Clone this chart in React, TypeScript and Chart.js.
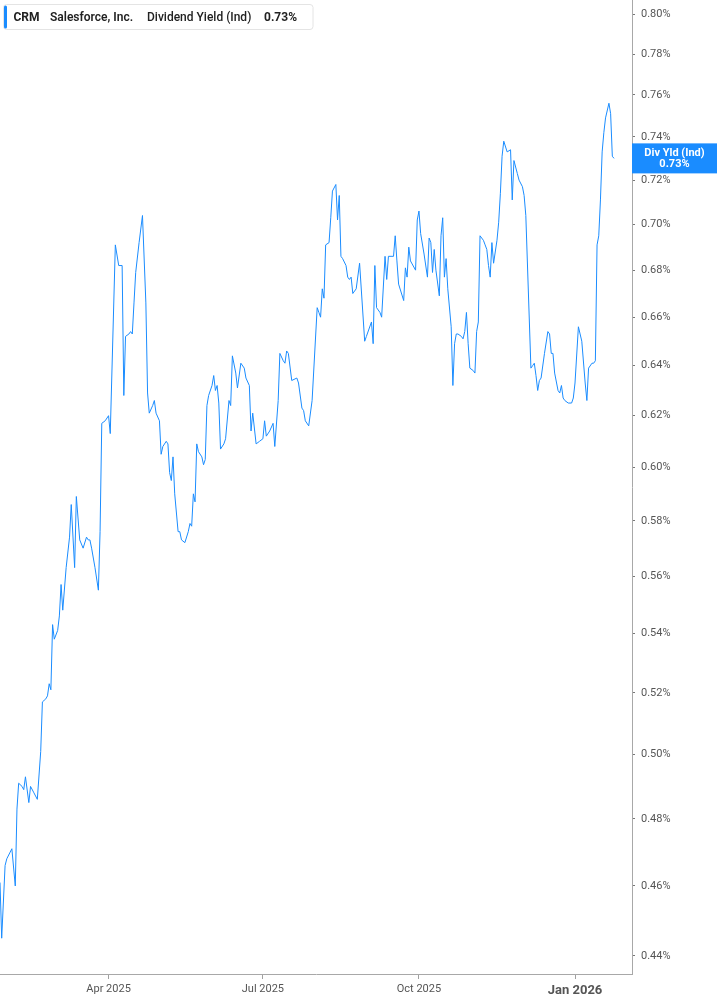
import { useEffect, useRef } from 'react';
import { Chart, registerables } from 'chart.js';

Chart.register(...registerables);

const ticker = 'CRM';
const company = 'Salesforce, Inc.';
const metric = 'Dividend Yield (Ind)';
const tagTitle = 'Div Yld (Ind)';

// one row per month
const dates = [
  '2025-01-27', '2025-01-28', '2025-01-30', '2025-01-31',
  '2025-02-02', '2025-02-03', '2025-02-05', '2025-02-06', '2025-02-07', '2025-02-09', '2025-02-10', '2025-02-11', '2025-02-13', '2025-02-14', '2025-02-16', '2025-02-18', '2025-02-20', '2025-02-21', '2025-02-23', '2025-02-24', '2025-02-25', '2025-02-26', '2025-02-27', '2025-02-28',
  '2025-03-02', '2025-03-03', '2025-03-04', '2025-03-05', '2025-03-07', '2025-03-09', '2025-03-10', '2025-03-12', '2025-03-13', '2025-03-15', '2025-03-17', '2025-03-19', '2025-03-20', '2025-03-21', '2025-03-22', '2025-03-24', '2025-03-26', '2025-03-27', '2025-03-28', '2025-03-30',
  '2025-04-01', '2025-04-02', '2025-04-05', '2025-04-07', '2025-04-09', '2025-04-10', '2025-04-11', '2025-04-13', '2025-04-14', '2025-04-15', '2025-04-16', '2025-04-17', '2025-04-19', '2025-04-21', '2025-04-23', '2025-04-24', '2025-04-25', '2025-04-27', '2025-04-28', '2025-04-29',
  '2025-05-01', '2025-05-02', '2025-05-03', '2025-05-05', '2025-05-06', '2025-05-07', '2025-05-08', '2025-05-09', '2025-05-10', '2025-05-12', '2025-05-13', '2025-05-14', '2025-05-16', '2025-05-18', '2025-05-19', '2025-05-20', '2025-05-21', '2025-05-22', '2025-05-23', '2025-05-24', '2025-05-26', '2025-05-27', '2025-05-28', '2025-05-29', '2025-05-30',
  '2025-06-01', '2025-06-02', '2025-06-03', '2025-06-04', '2025-06-05', '2025-06-06', '2025-06-08', '2025-06-09', '2025-06-11', '2025-06-12', '2025-06-13', '2025-06-15', '2025-06-16', '2025-06-18', '2025-06-20', '2025-06-21', '2025-06-23', '2025-06-24', '2025-06-25', '2025-06-27', '2025-06-29',
  '2025-07-01', '2025-07-02', '2025-07-03', '2025-07-05', '2025-07-07', '2025-07-08', '2025-07-10', '2025-07-11', '2025-07-13', '2025-07-14', '2025-07-15', '2025-07-16', '2025-07-18', '2025-07-21', '2025-07-22', '2025-07-24', '2025-07-25', '2025-07-26', '2025-07-28', '2025-07-30',
  '2025-08-02', '2025-08-03', '2025-08-04', '2025-08-05', '2025-08-06', '2025-08-07', '2025-08-09', '2025-08-10', '2025-08-11', '2025-08-13', '2025-08-14', '2025-08-15', '2025-08-16', '2025-08-17', '2025-08-19', '2025-08-20', '2025-08-21', '2025-08-22', '2025-08-23', '2025-08-25', '2025-08-27', '2025-08-30', '2025-08-31',
  '2025-09-03', '2025-09-04', '2025-09-05', '2025-09-06', '2025-09-08', '2025-09-09', '2025-09-11', '2025-09-12', '2025-09-13', '2025-09-16', '2025-09-17', '2025-09-18', '2025-09-19', '2025-09-22', '2025-09-23', '2025-09-24', '2025-09-25', '2025-09-26', '2025-09-29', '2025-09-30',
  '2025-10-01', '2025-10-02', '2025-10-04', '2025-10-06', '2025-10-07', '2025-10-08', '2025-10-09', '2025-10-10', '2025-10-11', '2025-10-13', '2025-10-14', '2025-10-15', '2025-10-16', '2025-10-17', '2025-10-18', '2025-10-20', '2025-10-21', '2025-10-22', '2025-10-23', '2025-10-24', '2025-10-26', '2025-10-27', '2025-10-28', '2025-10-29', '2025-10-30', '2025-10-31',
  '2025-11-02', '2025-11-03', '2025-11-04', '2025-11-05', '2025-11-06', '2025-11-08', '2025-11-09', '2025-11-10', '2025-11-11', '2025-11-12', '2025-11-13', '2025-11-14', '2025-11-16', '2025-11-17', '2025-11-18', '2025-11-19', '2025-11-20', '2025-11-22', '2025-11-24', '2025-11-25', '2025-11-26', '2025-11-28', '2025-11-29',
  '2025-12-01', '2025-12-02', '2025-12-03', '2025-12-06', '2025-12-07', '2025-12-08', '2025-12-09', '2025-12-10', '2025-12-11', '2025-12-12', '2025-12-14', '2025-12-16', '2025-12-17', '2025-12-18', '2025-12-19', '2025-12-20', '2025-12-22', '2025-12-23', '2025-12-24', '2025-12-25', '2025-12-26', '2025-12-28', '2025-12-30', '2025-12-31',
  '2026-01-01', '2026-01-03', '2026-01-04', '2026-01-05', '2026-01-07', '2026-01-08', '2026-01-09', '2026-01-11', '2026-01-12', '2026-01-13', '2026-01-14', '2026-01-15', '2026-01-16', '2026-01-17', '2026-01-18', '2026-01-19', '2026-01-21', '2026-01-22', '2026-01-23', '2026-01-24',
];

// dividend yield in %, same rows as dates
const divYield = [
  0.461, 0.445, 0.466, 0.468,
  0.470, 0.471, 0.460, 0.483, 0.491, 0.490, 0.489, 0.493, 0.485, 0.490, 0.488, 0.486, 0.501, 0.517, 0.518, 0.519, 0.523, 0.521, 0.543, 0.538,
  0.541, 0.546, 0.557, 0.548, 0.563, 0.574, 0.586, 0.563, 0.589, 0.573, 0.570, 0.574, 0.573, 0.573, 0.570, 0.563, 0.555, 0.576, 0.617, 0.618,
  0.620, 0.613, 0.691, 0.682, 0.682, 0.628, 0.652, 0.653, 0.654, 0.653, 0.666, 0.679, 0.692, 0.704, 0.666, 0.629, 0.621, 0.624, 0.626, 0.621,
  0.618, 0.605, 0.608, 0.610, 0.609, 0.598, 0.595, 0.604, 0.590, 0.576, 0.576, 0.573, 0.572, 0.576, 0.579, 0.578, 0.590, 0.587, 0.609, 0.606, 0.604, 0.601, 0.603, 0.624, 0.628,
  0.632, 0.636, 0.630, 0.632, 0.625, 0.607, 0.609, 0.611, 0.626, 0.624, 0.644, 0.637, 0.631, 0.641, 0.639, 0.635, 0.632, 0.614, 0.621, 0.609, 0.610,
  0.611, 0.618, 0.612, 0.614, 0.617, 0.608, 0.626, 0.645, 0.642, 0.641, 0.646, 0.645, 0.634, 0.635, 0.633, 0.623, 0.622, 0.618, 0.616, 0.626,
  0.664, 0.662, 0.660, 0.672, 0.668, 0.691, 0.692, 0.703, 0.715, 0.718, 0.702, 0.713, 0.686, 0.685, 0.682, 0.677, 0.676, 0.677, 0.670, 0.672, 0.683, 0.650, 0.652,
  0.658, 0.649, 0.682, 0.664, 0.662, 0.660, 0.686, 0.676, 0.686, 0.686, 0.695, 0.684, 0.674, 0.667, 0.681, 0.677, 0.690, 0.684, 0.680, 0.702,
  0.706, 0.696, 0.687, 0.677, 0.694, 0.692, 0.679, 0.689, 0.680, 0.669, 0.695, 0.703, 0.677, 0.685, 0.672, 0.656, 0.632, 0.649, 0.653, 0.653, 0.652, 0.651, 0.654, 0.662, 0.649, 0.639,
  0.638, 0.637, 0.654, 0.658, 0.695, 0.693, 0.691, 0.689, 0.682, 0.677, 0.692, 0.683, 0.693, 0.701, 0.714, 0.731, 0.738, 0.733, 0.734, 0.711, 0.729, 0.723, 0.720,
  0.717, 0.713, 0.704, 0.639, 0.640, 0.641, 0.636, 0.630, 0.634, 0.635, 0.645, 0.654, 0.653, 0.645, 0.645, 0.637, 0.630, 0.629, 0.632, 0.627, 0.626, 0.625, 0.625, 0.627,
  0.633, 0.656, 0.653, 0.650, 0.633, 0.626, 0.639, 0.641, 0.641, 0.642, 0.691, 0.695, 0.711, 0.733, 0.742, 0.749, 0.756, 0.751, 0.731, 0.730,
];

const xTickDates = ['2025-04-01', '2025-07-01', '2025-10-01', '2026-01-01'];
const yTicks = [0.44, 0.46, 0.48, 0.50, 0.52, 0.54, 0.56, 0.58, 0.60, 0.62, 0.64, 0.66, 0.68, 0.70, 0.72, 0.74, 0.76, 0.78, 0.80];
const MONTHS = ['Jan', 'Feb', 'Mar', 'Apr', 'May', 'Jun', 'Jul', 'Aug', 'Sep', 'Oct', 'Nov', 'Dec'];

const BLUE = '#1a8cff';
const FONT = 'Roboto, "Liberation Sans", Arial, sans-serif';

const dayNum = (s: string) => Date.parse(s) / 86400000;
const xMin = dayNum(dates[0]);
const xMax = xMin + 372.6;

const fmtMonth = (v: number) => {
  const d = new Date(v * 86400000);
  return MONTHS[d.getUTCMonth()] + ' ' + d.getUTCFullYear();
};

// no edge padding, so the plot runs to the top and left of the canvas
const noPad = (s: any) => {
  s.paddingTop = 0;
  s.paddingBottom = 0;
  s.paddingLeft = 0;
  s.paddingRight = 0;
};

const overlays = {
  id: 'overlays',
  afterDraw(chart: any) {
    const { ctx, scales } = chart;
    const last = divYield[divYield.length - 1];
    const lastTxt = last.toFixed(2) + '%';

    // legend box, top left
    ctx.save();
    ctx.beginPath();
    ctx.roundRect(3.5, 4.5, 309.5, 25, 3);
    ctx.fillStyle = '#ffffff';
    ctx.fill();
    ctx.strokeStyle = '#e4e4e4';
    ctx.lineWidth = 1;
    ctx.stroke();
    ctx.fillStyle = BLUE;
    ctx.beginPath();
    ctx.roundRect(4, 5.5, 3, 23, 1.5);
    ctx.fill();

    ctx.fillStyle = '#222222';
    ctx.textBaseline = 'alphabetic';
    ctx.textAlign = 'left';
    ctx.font = `700 12px ${FONT}`;
    ctx.fillText(ticker, 13.5, 21);
    ctx.font = `600 12px ${FONT}`;
    ctx.fillText(company, 50, 21);
    ctx.font = `500 12px ${FONT}`;
    ctx.fillText(metric, 147, 21);
    ctx.font = `700 12px ${FONT}`;
    ctx.fillText(lastTxt, 264, 21);

    // last value tag on the y axis
    const y = scales.y.getPixelForValue(last);
    const x0 = scales.y.left;
    ctx.fillStyle = BLUE;
    ctx.fillRect(x0, y - 15, chart.width - x0, 30);
    ctx.fillStyle = '#ffffff';
    ctx.textAlign = 'center';
    ctx.textBaseline = 'middle';
    ctx.font = `700 11px ${FONT}`;
    const cx = x0 + (chart.width - x0) / 2;
    ctx.fillText(tagTitle, cx, y - 5.5);
    ctx.fillText(lastTxt, cx, y + 5.5);
    ctx.restore();
  },
};

export default function App() {
  const canvasRef = useRef<HTMLCanvasElement>(null);

  useEffect(() => {
    if (!canvasRef.current) return;

    const chart = new Chart(canvasRef.current, {
      type: 'line',
      data: {
        datasets: [{
          label: metric,
          data: dates.map((d, i) => ({ x: dayNum(d), y: divYield[i] })),
          borderColor: BLUE,
          borderWidth: 1,
          pointRadius: 0,
          tension: 0,
          fill: false,
        }],
      },
      options: {
        animation: false,
        responsive: false,
        layout: { padding: 0 },
        plugins: {
          legend: { display: false },
          tooltip: { enabled: false },
        },
        scales: {
          x: {
            type: 'linear',
            min: xMin,
            max: xMax,
            bounds: 'data',
            afterBuildTicks: (s: any) => {
              s.ticks = xTickDates.map((d) => ({ value: dayNum(d) }));
            },
            afterFit: (s: any) => {
              s.height = 31;
              noPad(s);
            },
            grid: { drawOnChartArea: false, drawTicks: true, tickLength: 5, color: '#a0a0a0' },
            border: { color: '#a8a8a8' },
            ticks: {
              autoSkip: false,
              maxRotation: 0,
              padding: 4,
              color: '#555555',
              callback: (v: any) => fmtMonth(Number(v)),
              font: (c: any) =>
                c.tick && fmtMonth(c.tick.value).startsWith('Jan')
                  ? { family: FONT, size: 13, weight: 'bold' }
                  : { family: FONT, size: 11, weight: 'normal' },
            },
          },
          y: {
            type: 'logarithmic',
            position: 'right',
            min: 0.435,
            max: 0.8072,
            bounds: 'data',
            afterBuildTicks: (s: any) => {
              s.ticks = yTicks.map((v) => ({ value: v }));
            },
            afterFit: (s: any) => {
              s.width = 85;
              noPad(s);
            },
            grid: { drawOnChartArea: false, drawTicks: true, tickLength: 3, color: '#777777' },
            border: { color: '#a8a8a8' },
            ticks: {
              autoSkip: false,
              padding: 6,
              color: '#555555',
              font: { family: FONT, size: 11 },
              callback: (v: any) => Number(v).toFixed(2) + '%',
            },
          },
        },
      },
      plugins: [overlays],
    });

    return () => chart.destroy();
  }, []);

  return (
    <div style={{ position: 'absolute', left: 0, top: 0, width: 717, height: 1005, background: '#fff' }}>
      <canvas ref={canvasRef} width={717} height={1005} />
    </div>
  );
}
